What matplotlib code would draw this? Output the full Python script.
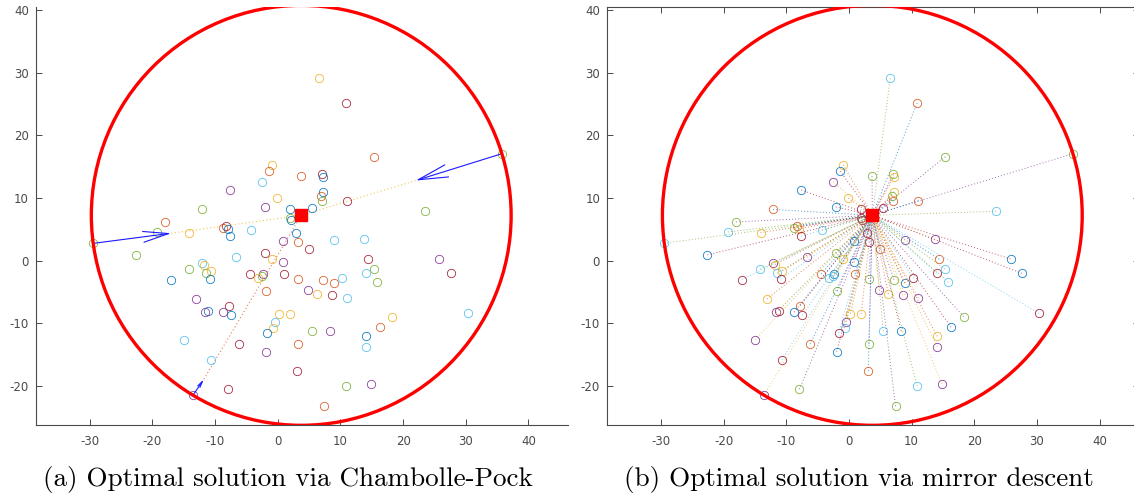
import numpy as np
import matplotlib
matplotlib.use("Agg")
import matplotlib.pyplot as plt
from matplotlib.patches import Circle

plt.rcParams['axes.unicode_minus'] = False
plt.rcParams['font.family'] = 'DejaVu Sans'

# MATLAB default colour order
colors = ['#0072BD', '#D95319', '#EDB120', '#7E2F8E', '#77AC30', '#4DBEEE', '#A2142F']

# sample points
px = [6.6, 10.9, 15.4, 35.8, -0.9, -1.4, 3.7, 7.1, 7.2, -2.5,
      -7.6, 7.2, 6.9, 7.1, -0.1, 11.1, -12.1, -2.1, 1.9, 5.4,
      1.9, 2.1, 23.5, -18.0, -19.3, -29.5, -14.1, -8.8, -8.3, -8.0,
      -7.65, -4.3, 2.9, 3.2, 0.85, 8.9, 13.7, 4.9, -22.6, 25.8,
      14.4, 27.6, -6.7, -2.1, -1.0, 0.8, -12.1, -11.8, -14.2, -11.5,
      -10.6, -17.1, -10.9, -4.4, -2.3, -2.5, -3.2, 1.0, 3.15, 7.2,
      10.3, 14.0, 15.35, 15.85, 8.9, 4.85, 6.3, 8.6, 11.1, -1.85,
      -13.1, -7.8, -7.45, -11.2, -11.6, -8.75, 0.25, 1.95, 18.3, 30.4,
      -0.4, -0.7, -1.65, 5.5, 8.35, 16.3, 14.1, -15.0, -6.2, 3.2,
      14.1, -1.95, -10.7, 3.1, 10.9, 14.85, -7.9, -13.5, 7.45]
py = [29.1, 25.2, 16.6, 17.1, 15.3, 14.3, 13.5, 13.8, 13.4, 12.6,
      11.3, 11.0, 10.4, 9.6, 10.0, 9.6, 8.2, 8.6, 8.2, 8.4,
      6.9, 6.5, 7.9, 6.2, 4.6, 2.8, 4.5, 5.3, 5.6, 5.1,
      3.9, 4.9, 4.5, 3.0, 3.1, 3.3, 3.4, 1.85, 0.95, 0.3,
      0.25, -2.0, 0.55, 1.2, 0.25, -0.25, -0.35, -0.6, -1.35, -2.0,
      -1.6, -3.0, -2.9, -2.1, -2.15, -2.5, -2.8, -2.15, -2.9, -3.0,
      -2.8, -1.95, -1.35, -3.4, -3.55, -4.6, -5.3, -5.45, -5.95, -4.8,
      -6.1, -7.15, -8.7, -7.95, -8.25, -8.2, -8.45, -8.5, -8.9, -8.4,
      -9.7, -10.75, -11.55, -11.2, -11.2, -10.6, -12.05, -12.6, -13.3, -13.3,
      -13.7, -14.5, -15.8, -17.6, -20.0, -19.65, -20.5, -21.4, -23.2]
# colour index of each marker in panel (a) and (b)
col_a = [2, 6, 1, 4, 2, 1, 1, 6, 0, 5,
         3, 0, 1, 4, 2, 6, 4, 3, 0, 0,
         4, 0, 4, 1, 4, 4, 2, 1, 6, 0,
         0, 5, 0, 1, 3, 5, 5, 6, 4, 3,
         6, 6, 5, 6, 2, 3, 5, 2, 4, 4,
         2, 0, 0, 6, 3, 4, 2, 6, 1, 1,
         5, 5, 4, 4, 1, 3, 2, 6, 5, 1,
         3, 6, 0, 0, 3, 3, 2, 2, 2, 5,
         5, 2, 0, 4, 3, 1, 0, 5, 6, 1,
         5, 3, 5, 6, 4, 3, 6, 3, 1]
col_b = [5, 1, 4, 4, 2, 0, 4, 4, 2, 3,
         0, 2, 4, 1, 2, 1, 1, 0, 6, 6,
         6, 6, 5, 4, 5, 5, 2, 4, 1, 2,
         6, 5, 6, 6, 0, 3, 3, 1, 0, 0,
         1, 0, 3, 4, 2, 0, 3, 2, 5, 5,
         2, 6, 6, 1, 0, 5, 5, 1, 4, 4,
         6, 6, 5, 5, 0, 3, 2, 3, 3, 4,
         2, 1, 6, 6, 3, 0, 2, 2, 4, 6,
         3, 5, 6, 5, 0, 0, 2, 3, 1, 4,
         3, 0, 6, 1, 5, 3, 4, 3, 4]

# optimal location and enclosing circle
cx, cy = 3.74, 7.25
radius = 33.5

# Chambolle-Pock step arrows (tail -> tip) and their dotted continuation colours
arr_tail_x = [-29.3, 35.8, -13.5]
arr_tail_y = [2.8, 17.1, -21.4]
arr_tip_x = [-17.0, 22.0, -11.8]
arr_tip_y = [4.4, 12.8, -18.9]
arr_line_col = [2, 2, 1]

xticks = [-30, -20, -10, 0, 10, 20, 30, 40]
yticks = [-20, -10, 0, 10, 20, 30, 40]
captions = ['(a) Optimal solution via Chambolle-Pock',
            '(b) Optimal solution via mirror descent']

gray = '#4a4a4a'
dots = (0, (1, 2.2))

fig = plt.figure(figsize=(11.34, 4.94), dpi=100)
ax_a = fig.add_axes([0.0317, 0.1397, 0.4691, 0.8462])
ax_b = fig.add_axes([0.5353, 0.1397, 0.4691, 0.8462])


def style(ax, box):
    ax.set_xlim(-38.6, 46.3)
    ax.set_ylim(-26.2, 40.5)
    ax.set_xticks(xticks)
    ax.set_yticks(yticks)
    ax.set_xticklabels([str(t) for t in xticks])
    ax.set_yticklabels([str(t) for t in yticks])
    ax.tick_params(direction='in', length=4, width=0.7, colors=gray,
                   labelsize=8.5, pad=7, top=box, right=box)
    ax.tick_params(axis='y', pad=5)
    for s in ax.spines.values():
        s.set_color(gray)
        s.set_linewidth(0.8)
    ax.spines['top'].set_visible(box)
    ax.spines['right'].set_visible(box)


# panel (a)
for i in range(3):
    ax_a.plot([arr_tip_x[i], cx], [arr_tip_y[i], cy], linestyle=dots,
              color=colors[arr_line_col[i]], lw=0.8, alpha=0.75)
for x, y, c in zip(px, py, col_a):
    ax_a.plot(x, y, 'o', mfc='none', mec=colors[c], ms=6, mew=0.6, alpha=0.9)
for i in range(3):
    L = np.hypot(arr_tip_x[i] - arr_tail_x[i], arr_tip_y[i] - arr_tail_y[i]) * 4.5
    ax_a.annotate('', xy=(arr_tip_x[i], arr_tip_y[i]), xytext=(arr_tail_x[i], arr_tail_y[i]),
                  arrowprops=dict(arrowstyle='->,head_length=%.2f,head_width=%.2f' % (0.33 * L, 0.07 * L),
                                  color='#1a1aff', lw=0.8, mutation_scale=1,
                                  shrinkA=0, shrinkB=0))
ax_a.add_patch(Circle((cx, cy), radius, fill=False, ec='red', lw=2.4, zorder=5))
ax_a.plot(cx, cy, 's', color='red', ms=9, zorder=6)
style(ax_a, False)

# panel (b)
for x, y, c in zip(px, py, col_b):
    ax_b.plot([x, cx], [y, cy], linestyle=dots, color=colors[(c - 1) % 7], lw=0.7, alpha=0.7)
    ax_b.plot(x, y, 'o', mfc='none', mec=colors[c], ms=6, mew=0.6, alpha=0.9)
ax_b.add_patch(Circle((cx, cy), radius, fill=False, ec='red', lw=2.4, zorder=5))
ax_b.plot(cx, cy, 's', color='red', ms=9, zorder=6)
style(ax_b, True)

fig.text(0.254, 0.0165, captions[0], ha='center', va='baseline', fontsize=19.5, family='cmr10')
fig.text(0.7575, 0.0165, captions[1], ha='center', va='baseline', fontsize=19.5, family='cmr10')

fig.savefig('out.png', dpi=100)
